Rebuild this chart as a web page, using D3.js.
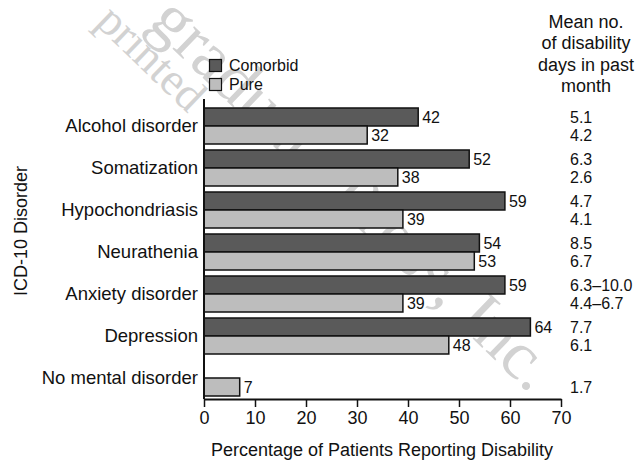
<!DOCTYPE html>
<html>
<head>
<meta charset="utf-8">
<script src="https://cdn.jsdelivr.net/npm/d3@7"></script>
<style>
  html, body { margin: 0; padding: 0; background: #fff; }
  svg { display: block; font-family: "Liberation Sans", Arial, sans-serif; }
</style>
</head>
<body>
<svg id="chart" width="636" height="460"></svg>
<script>
const categories = ["Alcohol disorder", "Somatization", "Hypochondriasis", "Neurathenia", "Anxiety disorder", "Depression", "No mental disorder"];
const comorbid = [42, 52, 59, 54, 59, 64, null];
const pure = [32, 38, 39, 53, 39, 48, 7];
const daysComorbid = ["5.1", "6.3", "4.7", "8.5", "6.3–10.0", "7.7", ""];
const daysPure = ["4.2", "2.6", "4.1", "6.7", "4.4–6.7", "6.1", "1.7"];
const series = ["Comorbid", "Pure"];
const xTicks = [0, 10, 20, 30, 40, 50, 60, 70];
const headerLines = ["Mean no.", "of disability", "days in past", "month"];

const colors = { Comorbid: "#5a5a5a", Pure: "#bdbdbd" };
const svg = d3.select("#chart");

// watermark (faint, behind the chart)
const wm = svg.append("g").attr("fill", "#d2d2d2")
  .style("font-family", "'Liberation Serif', 'DejaVu Serif', serif");
wm.append("text")
  .attr("transform", "translate(530,394) rotate(44)")
  .attr("text-anchor", "end")
  .style("font-size", "68px")
  .text("graduate Press, Inc.");
wm.append("text")
  .attr("transform", "translate(188,114) rotate(44)")
  .attr("text-anchor", "end")
  .style("font-size", "46px")
  .text("printed");

const x = d3.scaleLinear().domain([0, 70]).range([204, 561]);
const y = d3.scaleBand().domain(categories).range([105, 399]).padding(0);
const ySub = d3.scaleBand().domain(series).range([0, y.bandwidth()]).paddingInner(0).paddingOuter(3 / 18);

const rows = categories.map((c, i) => ({ cat: c, Comorbid: comorbid[i], Pure: pure[i], dC: daysComorbid[i], dP: daysPure[i] }));

// bars
const g = svg.append("g");
rows.forEach(r => {
  series.forEach(s => {
    if (r[s] == null) return;
    g.append("rect")
      .attr("x", x(0))
      .attr("y", y(r.cat) + ySub(s))
      .attr("width", x(r[s]) - x(0))
      .attr("height", ySub.bandwidth())
      .attr("fill", colors[s])
      .attr("stroke", "#111")
      .attr("stroke-width", 1.5);
    g.append("text")
      .attr("x", x(r[s]) + 4)
      .attr("y", y(r.cat) + ySub(s) + ySub.bandwidth() / 2)
      .attr("dy", "0.38em")
      .style("font-size", "16px")
      .attr("fill", "#111")
      .text(r[s]);
  });
  // right column
  [["Comorbid", r.dC], ["Pure", r.dP]].forEach(([s, t]) => {
    if (!t) return;
    svg.append("text")
      .attr("x", 570)
      .attr("y", y(r.cat) + ySub(s) + ySub.bandwidth() / 2)
      .attr("dy", "0.36em")
      .style("font-size", "16px")
      .attr("fill", "#111")
      .text(t);
  });
});

// y axis
const yAxis = d3.axisLeft(y).tickSize(0).tickPadding(6);
const ya = svg.append("g").attr("transform", `translate(${x(0)},0)`).call(yAxis);
ya.select(".domain").remove();
ya.selectAll("text").style("font-size", "18.5px").attr("fill", "#111").attr("dy", "0.3em");
svg.append("line").attr("x1", x(0)).attr("x2", x(0)).attr("y1", 99).attr("y2", 399)
  .attr("stroke", "#111").attr("stroke-width", 2);

// x axis
const xAxis = d3.axisBottom(x).tickValues(xTicks).tickSize(8).tickPadding(4).tickSizeOuter(0);
const xa = svg.append("g").attr("transform", "translate(0,399)").call(xAxis);
xa.select(".domain").attr("stroke", "#111").attr("stroke-width", 2);
xa.selectAll(".tick line").attr("stroke", "#111").attr("stroke-width", 1.5);
xa.selectAll("text").style("font-size", "18px").attr("fill", "#111");

// axis titles
svg.append("text").attr("x", 382).attr("y", 456).attr("text-anchor", "middle")
  .style("font-size", "18px").attr("fill", "#111").text("Percentage of Patients Reporting Disability");
svg.append("text").attr("transform", "translate(27,231) rotate(-90)").attr("text-anchor", "middle")
  .style("font-size", "18px").attr("fill", "#111").text("ICD-10 Disorder");

// header
headerLines.forEach((t, i) => {
  svg.append("text").attr("x", 586).attr("y", 28 + i * 21.3).attr("text-anchor", "middle")
    .style("font-size", "18px").attr("fill", "#111").text(t);
});

// legend
const leg = svg.append("g");
series.forEach((s, i) => {
  leg.append("rect").attr("x", 209.5).attr("y", 59.5 + i * 19).attr("width", 12).attr("height", 12)
    .attr("fill", colors[s]).attr("stroke", "#111").attr("stroke-width", 1.2);
  leg.append("text").attr("x", 229).attr("y", 65.5 + i * 19).attr("dy", "0.36em")
    .style("font-size", "16px").attr("fill", "#111").text(s);
});
</script>
</body>
</html>
